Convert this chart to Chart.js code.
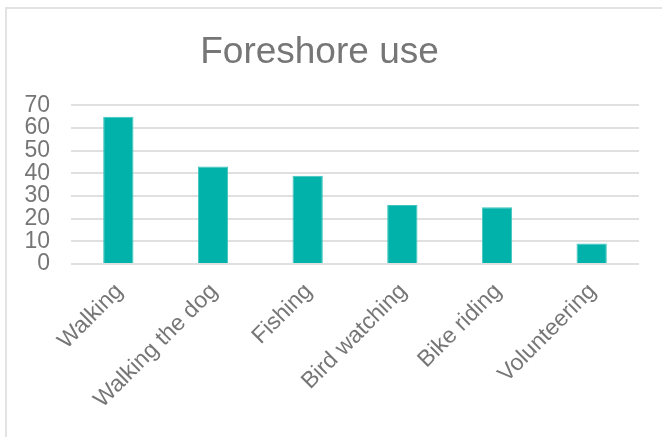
<!DOCTYPE html>
<html>
<head>
<meta charset="utf-8">
<script src="https://cdn.jsdelivr.net/npm/chart.js@4"></script>
<style>
  html, body { margin: 0; padding: 0; background: #fff; }
  #frame {
    position: absolute; left: 5px; top: 7px; width: 700px; height: 500px;
    border: 2px solid #e3e3e3; box-sizing: border-box;
  }
  #wrap { position: absolute; left: 0; top: 0; width: 662px; height: 437px; }
</style>
</head>
<body>
<div id="frame"></div>
<div id="wrap"><canvas id="chart" width="662" height="437"></canvas></div>
<script>
const categories = ["Walking", "Walking the dog", "Fishing", "Bird watching", "Bike riding", "Volunteering"];
const values = [65, 43, 39, 26, 25, 9];
const yTicks = [0, 10, 20, 30, 40, 50, 60, 70];

const grey = "#767676";
const family = "'Liberation Sans', Arial, sans-serif";

new Chart(document.getElementById("chart"), {
  type: "bar",
  data: {
    labels: categories,
    datasets: [
      {
        label: "Foreshore use",
        data: values,
        backgroundColor: "#00b2a9",
        borderColor: "#3cc4bd",
        borderWidth: 1,
        barPercentage: 0.8,
        categoryPercentage: 0.4,
      },
    ],
  },
  options: {
    responsive: false,
    animation: false,
    layout: { padding: { left: 0, right: 23, top: 0, bottom: 0 } },
    plugins: {
      legend: { display: false },
      tooltip: { enabled: false },
      title: {
        display: true,
        text: "Foreshore use",
        color: grey,
        font: { size: 37, family: family, weight: "normal", lineHeight: 1.2 },
        padding: { top: 31, bottom: 30 },
      },
    },
    scales: {
      x: {
        grid: { display: false },
        border: { display: false },
        ticks: {
          color: grey,
          font: { size: 23, family: family },
          minRotation: 45,
          maxRotation: 45,
          autoSkip: false,
          padding: 6,
          labelOffset: 1,
        },
        afterFit: (scale) => { scale.height = 173; },
      },
      y: {
        min: 0,
        max: 70,
        afterBuildTicks: (scale) => { scale.ticks = yTicks.map((v) => ({ value: v })); },
        grid: { color: "#e0e0e0", lineWidth: 2, drawTicks: false },
        border: { display: false },
        ticks: {
          color: grey,
          font: { size: 23, family: family, lineHeight: 1 },
          autoSkip: false,
          padding: 21,
        },
        afterFit: (scale) => { scale.width = 71; },
      },
    },
  },
});
</script>
</body>
</html>
